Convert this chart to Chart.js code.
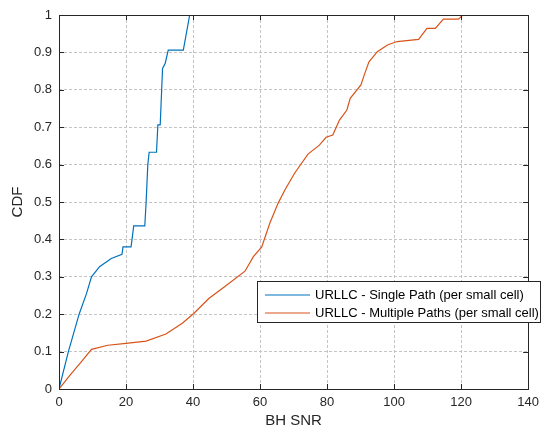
<!DOCTYPE html>
<html>
<head>
<meta charset="utf-8">
<script src="https://cdn.jsdelivr.net/npm/chart.js@4.4.1/dist/chart.umd.min.js"></script>
<style>
  html, body { margin: 0; padding: 0; background: #fff; }
  #wrap { width: 545px; height: 431px; }
</style>
</head>
<body>
<div id="wrap"><canvas id="cdf" width="545" height="431"></canvas></div>
<script>
// values
const singleLabel = "URLLC - Single Path (per small cell)";
const singleX = [0, 2.8, 6.0, 8.2, 9.7, 12.1, 15.6, 18.8, 19.1, 21.5, 22.3, 25.6, 26.0, 26.5, 26.9, 29.1, 29.5, 30.2, 30.9, 31.7, 32.6, 37.1, 39.0];
const singleY = [0, 0.1, 0.2, 0.255, 0.3, 0.327, 0.349, 0.36, 0.38, 0.38, 0.436, 0.436, 0.5, 0.6, 0.633, 0.633, 0.706, 0.706, 0.857, 0.871, 0.906, 0.906, 1.0];

const multiLabel = "URLLC - Multiple Paths (per small cell)";
const multiX = [0, 3.3, 6.7, 9.7, 14.6, 20, 26, 31.9, 36.8, 40.2, 44.7, 49.6, 55.5, 58, 60.5, 62.9, 65.4, 67.4, 70.3, 74.3, 77.7, 79.7, 81.7, 83.7, 85.9, 86.9, 90.1, 91.1, 92.5, 95, 98, 100.9, 107.3, 109.8, 112.3, 114.7, 119.2, 120.5];
const multiY = [0, 0.037, 0.073, 0.106, 0.117, 0.122, 0.128, 0.147, 0.176, 0.202, 0.242, 0.275, 0.315, 0.354, 0.38, 0.443, 0.497, 0.532, 0.577, 0.628, 0.652, 0.673, 0.679, 0.719, 0.746, 0.777, 0.813, 0.84, 0.875, 0.902, 0.92, 0.929, 0.935, 0.964, 0.964, 0.989, 0.989, 1.0];

const xTitle = "BH SNR";
const yTitle = "CDF";

const textColor = "#262626";
const fontFamily = "'Liberation Sans', Arial, sans-serif";

function toPoints(xs, ys) {
    return xs.map((x, i) => ({ x: x, y: ys[i] }));
}

// box, inward ticks, axis titles and legend, MATLAB style
const matlabLook = {
    id: "matlabLook",
    afterDraw(chart) {
        const ctx = chart.ctx;
        const a = chart.chartArea;
        const xs = chart.scales.x;
        const ys = chart.scales.y;
        ctx.save();
        ctx.strokeStyle = textColor;
        ctx.lineWidth = 1;
        ctx.strokeRect(Math.round(a.left) + 0.5, Math.round(a.top) + 0.5,
            Math.round(a.right - a.left), Math.round(a.bottom - a.top));

        const len = 5;
        ctx.beginPath();
        xs.ticks.forEach(t => {
            const px = Math.round(xs.getPixelForValue(t.value)) + 0.5;
            ctx.moveTo(px, a.bottom); ctx.lineTo(px, a.bottom - len);
            ctx.moveTo(px, a.top); ctx.lineTo(px, a.top + len);
        });
        ys.ticks.forEach(t => {
            const py = Math.round(ys.getPixelForValue(t.value)) + 0.5;
            ctx.moveTo(a.left, py); ctx.lineTo(a.left + len, py);
            ctx.moveTo(a.right, py); ctx.lineTo(a.right - len, py);
        });
        ctx.stroke();

        // axis titles
        ctx.fillStyle = textColor;
        ctx.font = "15px " + fontFamily;
        ctx.textAlign = "center";
        ctx.textBaseline = "middle";
        ctx.fillText(xTitle, (a.left + a.right) / 2, 421);
        ctx.save();
        ctx.translate(18, (a.top + a.bottom) / 2);
        ctx.rotate(-Math.PI / 2);
        ctx.fillText(yTitle, 0, 0);
        ctx.restore();

        // legend
        const bx = 257.5, by = 281.5, bw = 283, bh = 41;
        ctx.fillStyle = "#fff";
        ctx.fillRect(bx, by, bw, bh);
        ctx.strokeStyle = textColor;
        ctx.strokeRect(bx, by, bw, bh);
        ctx.font = "13px " + fontFamily;
        ctx.textAlign = "left";
        chart.data.datasets.forEach((ds, i) => {
            const ry = 295 + i * 18;
            ctx.strokeStyle = ds.borderColor;
            ctx.lineWidth = 1.2;
            ctx.beginPath();
            ctx.moveTo(265, ry); ctx.lineTo(310, ry);
            ctx.stroke();
            ctx.fillStyle = "#000";
            ctx.fillText(ds.label, 315, ry);
        });
        ctx.restore();
    }
};

const ctx = document.getElementById("cdf").getContext("2d");
new Chart(ctx, {
    type: "scatter",
    data: {
        datasets: [
            {
                label: singleLabel,
                data: toPoints(singleX, singleY),
                showLine: true,
                borderColor: "#0072BD",
                borderWidth: 1.2,
                pointRadius: 0,
                tension: 0
            },
            {
                label: multiLabel,
                data: toPoints(multiX, multiY),
                showLine: true,
                borderColor: "#D95319",
                borderWidth: 1.2,
                pointRadius: 0,
                tension: 0
            }
        ]
    },
    options: {
        responsive: false,
        animation: false,
        layout: { padding: { top: 15, right: 13, left: 0, bottom: 0 } },
        plugins: {
            legend: { display: false },
            tooltip: { enabled: false }
        },
        scales: {
            x: {
                type: "linear",
                min: 0,
                max: 140,
                afterFit: s => { s.height = 42; },
                ticks: {
                    stepSize: 20,
                    padding: 6,
                    color: textColor,
                    font: { size: 13, family: fontFamily },
                    maxRotation: 0
                },
                grid: { color: "#c4c4c4", drawTicks: false },
                border: { display: false, dash: [3, 2] }
            },
            y: {
                type: "linear",
                min: 0,
                max: 1,
                afterFit: s => { s.width = 59; },
                ticks: {
                    stepSize: 0.1,
                    padding: 7,
                    color: textColor,
                    font: { size: 13, family: fontFamily },
                    callback: v => String(Number(v.toFixed(1)))
                },
                grid: { color: "#c4c4c4", drawTicks: false },
                border: { display: false, dash: [3, 2] }
            }
        }
    },
    plugins: [matlabLook]
});
</script>
</body>
</html>
